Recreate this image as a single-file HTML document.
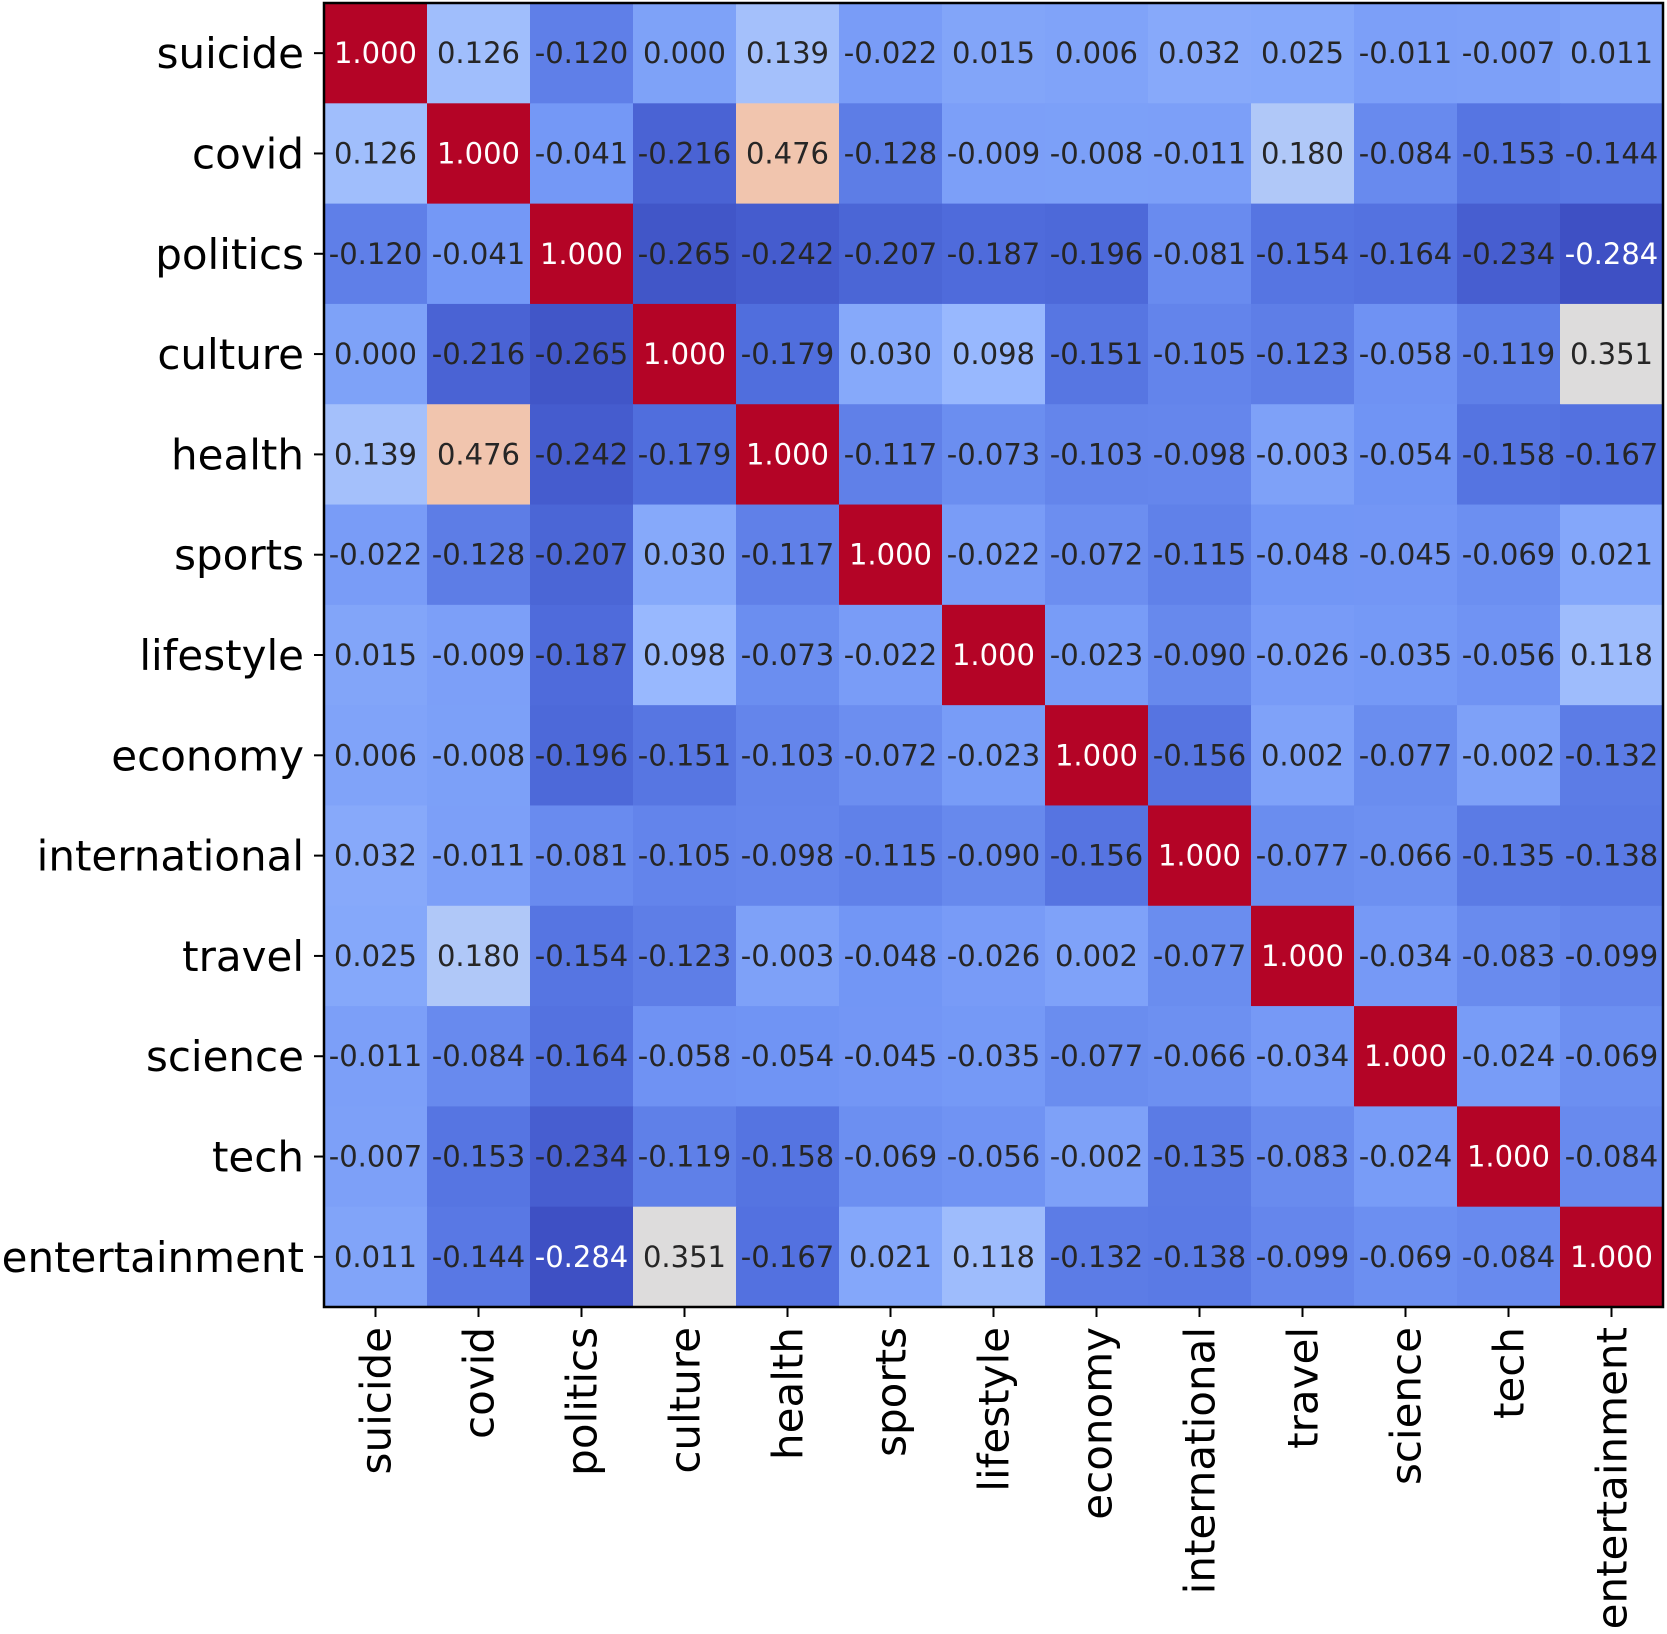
<!DOCTYPE html>
<html><head><meta charset="utf-8"><style>body{margin:0;background:#fff}svg{display:block}</style></head>
<body>
<svg id="chart" width="1667" height="1634" xmlns="http://www.w3.org/2000/svg" font-family="DejaVu Sans, Liberation Sans, sans-serif"></svg>
<script>
const categories = ["suicide","covid","politics","culture","health","sports","lifestyle","economy","international","travel","science","tech","entertainment"];
const values = [
[1.000,0.126,-0.120,0.000,0.139,-0.022,0.015,0.006,0.032,0.025,-0.011,-0.007,0.011],
[0.126,1.000,-0.041,-0.216,0.476,-0.128,-0.009,-0.008,-0.011,0.180,-0.084,-0.153,-0.144],
[-0.120,-0.041,1.000,-0.265,-0.242,-0.207,-0.187,-0.196,-0.081,-0.154,-0.164,-0.234,-0.284],
[0.000,-0.216,-0.265,1.000,-0.179,0.030,0.098,-0.151,-0.105,-0.123,-0.058,-0.119,0.351],
[0.139,0.476,-0.242,-0.179,1.000,-0.117,-0.073,-0.103,-0.098,-0.003,-0.054,-0.158,-0.167],
[-0.022,-0.128,-0.207,0.030,-0.117,1.000,-0.022,-0.072,-0.115,-0.048,-0.045,-0.069,0.021],
[0.015,-0.009,-0.187,0.098,-0.073,-0.022,1.000,-0.023,-0.090,-0.026,-0.035,-0.056,0.118],
[0.006,-0.008,-0.196,-0.151,-0.103,-0.072,-0.023,1.000,-0.156,0.002,-0.077,-0.002,-0.132],
[0.032,-0.011,-0.081,-0.105,-0.098,-0.115,-0.090,-0.156,1.000,-0.077,-0.066,-0.135,-0.138],
[0.025,0.180,-0.154,-0.123,-0.003,-0.048,-0.026,0.002,-0.077,1.000,-0.034,-0.083,-0.099],
[-0.011,-0.084,-0.164,-0.058,-0.054,-0.045,-0.035,-0.077,-0.066,-0.034,1.000,-0.024,-0.069],
[-0.007,-0.153,-0.234,-0.119,-0.158,-0.069,-0.056,-0.002,-0.135,-0.083,-0.024,1.000,-0.084],
[0.011,-0.144,-0.284,0.351,-0.167,0.021,0.118,-0.132,-0.138,-0.099,-0.069,-0.084,1.000]
];
const NS="http://www.w3.org/2000/svg";
const svg=document.getElementById('chart');
const L=324,T=3,R=1663,B=1307,n=categories.length;
const cw=(R-L)/n, ch=(B-T)/n;
const vmin=-0.3, vmax=1.0;
const stops=[[0,59,76,192],[0.1,82,112,223],[0.2,116,152,246],[0.3,150,183,254],[0.4,187,207,246],[0.5,221,220,220],[0.6,242,196,173],[0.7,245,160,128],[0.8,231,117,91],[0.9,208,72,62],[1,180,4,38]];
function cmap(v){let t=Math.max(0,Math.min(1,(v-vmin)/(vmax-vmin)));
 for(let i=1;i<stops.length;i++){if(t<=stops[i][0]){const a=stops[i-1],b=stops[i],f=(t-a[0])/(b[0]-a[0]);
 return `rgb(${[1,2,3].map(k=>Math.round(a[k]+(b[k]-a[k])*f)).join(',')})`;}}return 'rgb(180,4,38)';}
function xs(j){return L+j*cw;} function ys(i){return T+i*ch;}
function mk(tag,at){const e=document.createElementNS(NS,tag);for(const k in at)e.setAttribute(k,at[k]);svg.appendChild(e);return e;}
values.forEach((row,i)=>row.forEach((v,j)=>{
 const r=mk('rect',{x:xs(j),y:ys(i),width:cw+0.5,height:ch+0.5,fill:cmap(v)});
 
 
 const t=(v-vmin)/(vmax-vmin);
 const tx=mk('text',{x:xs(j)+cw/2,y:ys(i)+ch/2+10,'text-anchor':'middle','font-size':29,fill:(t>0.85||t<0.015)?'#fff':'#262626'});
 tx.textContent=v.toFixed(3);
 
 
}));
const fr=mk('rect',{x:L,y:T,width:R-L,height:B-T,fill:'none',stroke:'#000','stroke-width':2.5});


categories.forEach((c,i)=>{
 const cy=ys(i)+ch/2;
 mk('line',{x1:L-10,x2:L,y1:cy,y2:cy,stroke:'#000','stroke-width':2});
 const yl=mk('text',{x:L-20,y:cy+15,'text-anchor':'end','font-size':42,fill:'#000'});
 yl.textContent=c;
 
 
 const cx=xs(i)+cw/2;
 mk('line',{x1:cx,x2:cx,y1:B,y2:B+10,stroke:'#000','stroke-width':2});
 const xl=mk('text',{x:0,y:0,'text-anchor':'end','font-size':42,fill:'#000',transform:`translate(${cx+15},${B+20}) rotate(-90)`});
 xl.textContent=c;
 
 
});
</script>
</body></html>
